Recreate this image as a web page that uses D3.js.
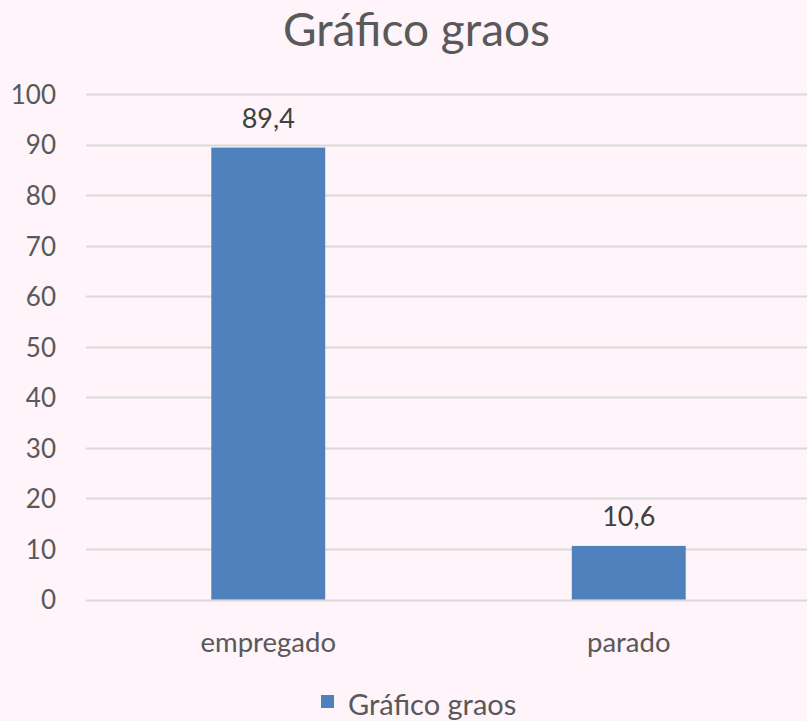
<!DOCTYPE html>
<html>
<head>
<meta charset="utf-8">
<script src="https://cdn.jsdelivr.net/npm/d3@7"></script>
<style>
  html, body { margin: 0; padding: 0; background: #FEF4F9; }
  svg { display: block; }
  text { font-family: Lato, "Open Sans", sans-serif; }
</style>
</head>
<body>
<script>
const title = "Gráfico graos";
const categories = ["empregado", "parado"];
const values = [89.4, 10.6];
const valueLabels = ["89,4", "10,6"];
const yTicks = [0, 10, 20, 30, 40, 50, 60, 70, 80, 90, 100];
const seriesName = "Gráfico graos";

const W = 807, H = 721;
const margin = { left: 86, right: 0, top: 94, bottom: 121 };
const svg = d3.select("body").append("svg").attr("width", W).attr("height", H);
svg.append("rect").attr("width", W).attr("height", H).attr("fill", "#FEF4F9");

const x = d3.scaleBand().domain(categories).range([margin.left + 2, W - margin.right + 2]).paddingInner(0.684).paddingOuter(0.342);
const y = d3.scaleLinear().domain([0, 100]).range([H - margin.bottom - 0.5, margin.top]);

// gridlines
svg.append("g").selectAll("line").data(yTicks).join("line")
  .attr("x1", margin.left).attr("x2", W - margin.right)
  .attr("y1", d => Math.round(y(d)) + 0.5).attr("y2", d => Math.round(y(d)) + 0.5)
  .attr("stroke", "#D9D9D9").attr("stroke-width", 2);

// y axis labels
const yAxis = d3.axisLeft(y).tickValues(yTicks).tickSize(0).tickPadding(0);
const ya = svg.append("g").attr("transform", `translate(56,0)`).call(yAxis);
ya.select(".domain").remove();
ya.selectAll("text").attr("fill", "#595959").style("font-size", "26px").attr("dy", "0.36em");

// bars
svg.append("g").selectAll("rect").data(values).join("rect")
  .attr("x", (d, i) => x(categories[i]))
  .attr("width", x.bandwidth())
  .attr("y", d => y(d))
  .attr("height", d => y(0) - y(d))
  .attr("fill", "#4F81BD");

// value labels
svg.append("g").selectAll("text").data(values).join("text")
  .attr("x", (d, i) => x(categories[i]) + x.bandwidth() / 2)
  .attr("y", d => y(d) - 20)
  .attr("text-anchor", "middle")
  .attr("fill", "#404040")
  .style("font-size", "27px")
  .text((d, i) => valueLabels[i]);

// x axis labels
const xAxis = d3.axisBottom(x).tickSize(0).tickPadding(0);
const xa = svg.append("g").attr("transform", `translate(0,${y(0)})`).call(xAxis);
xa.select(".domain").remove();
xa.selectAll("text").attr("fill", "#595959").style("font-size", "27.5px")
  .attr("dy", null).attr("y", 52);

// title
svg.append("text").attr("x", W / 2 + 13).attr("y", 46).attr("text-anchor", "middle")
  .attr("fill", "#595959").style("font-size", "46px").text(title);

// legend
const lg = svg.append("g");
lg.append("rect").attr("x", 321).attr("y", 695).attr("width", 13).attr("height", 13).attr("fill", "#4F81BD");
lg.append("text").attr("x", 348).attr("y", 715).attr("fill", "#595959").style("font-size", "29px").text(seriesName);
</script>
</body>
</html>
